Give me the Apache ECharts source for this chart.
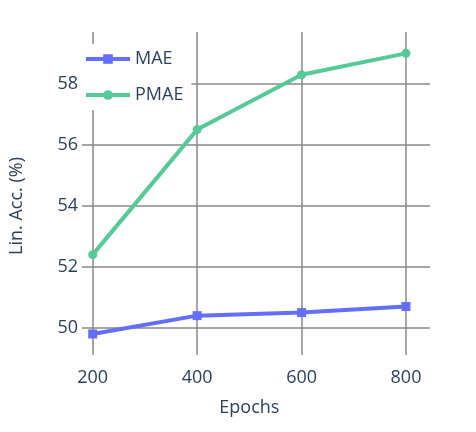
<!DOCTYPE html>
<html><head><meta charset="utf-8">
<script src="https://cdn.jsdelivr.net/npm/echarts@6/dist/echarts.min.js"></script>
<style>html,body{margin:0;padding:0;background:#fff}#c{width:476px;height:432px}</style>
</head><body><div id="c"></div>
<script>
const epochs = [200, 400, 600, 800];
const mae = [49.8, 50.4, 50.5, 50.7];
const pmae = [52.4, 56.5, 58.3, 59.0];
const yTicks = [50, 52, 54, 56, 58];
const txt = '#2a3f5f', grid = '#888';
const font = 'Open Sans, DejaVu Sans, sans-serif';
const chart = echarts.init(document.getElementById('c'));
chart.setOption({
  animation: false,
  legend: {
    orient: 'vertical', left: 80, top: 44, itemWidth: 44, itemHeight: 12, itemGap: 18,
    backgroundColor: '#fff', padding: [6, 8, 6, 4],
    lineStyle: { width: 4 },
    textStyle: { fontSize: 18, color: txt, fontFamily: font },
    data: ['MAE', 'PMAE']
  },
  grid: [
    { left: 75, width: 355, top: 84, height: 244 },
    { left: 92.7, width: 313.3, top: 32, height: 323 }
  ],
  xAxis: [
    { gridIndex: 0, type: 'value', show: false, min: 0, max: 1 },
    { gridIndex: 1, type: 'value', min: 200, max: 800, interval: 200,
      name: 'Epochs', nameLocation: 'middle', nameGap: 44,
      nameTextStyle: { fontSize: 18, color: txt, fontFamily: font },
      axisLine: { show: false }, axisTick: { show: false },
      axisLabel: { fontSize: 18, color: txt, fontFamily: font, margin: 14 },
      splitLine: { show: true, lineStyle: { color: grid, width: 1.5 } } }
  ],
  yAxis: [
    { gridIndex: 0, type: 'value', min: 50, max: 58, interval: 2,
      name: 'Lin. Acc. (%)', nameLocation: 'middle', nameGap: 62,
      nameTextStyle: { fontSize: 18, color: txt, fontFamily: font },
      axisLine: { show: false },
      axisTick: { show: true, length: 6, lineStyle: { color: grid, width: 1.5 } },
      axisLabel: { fontSize: 18, color: txt, fontFamily: font, margin: 10 },
      splitLine: { show: true, lineStyle: { color: grid, width: 1.5 } } },
    { gridIndex: 1, type: 'value', min: 49.11, max: 59.7, show: false, splitLine: { show: false } }
  ],
  series: [
    { name: 'MAE', type: 'line', xAxisIndex: 1, yAxisIndex: 1,
      data: epochs.map((e, i) => [e, mae[i]]), symbol: 'rect', symbolSize: 9,
      color: '#636efa', lineStyle: { width: 4 } },
    { name: 'PMAE', type: 'line', xAxisIndex: 1, yAxisIndex: 1,
      data: epochs.map((e, i) => [e, pmae[i]]), symbol: 'circle', symbolSize: 9,
      color: '#55c996', lineStyle: { width: 4 } }
  ]
});
</script></body></html>
